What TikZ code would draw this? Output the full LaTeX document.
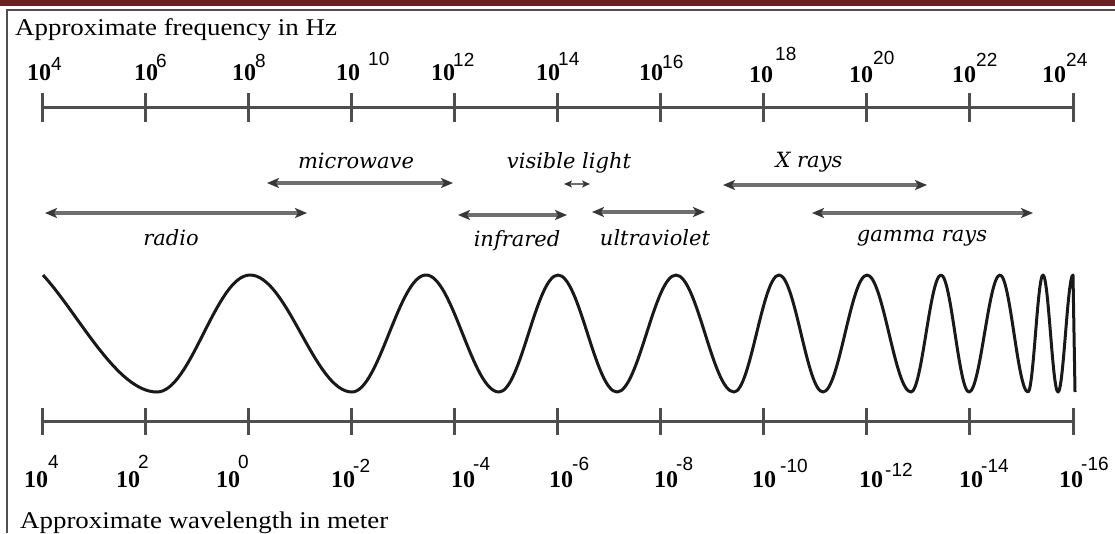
\documentclass[tikz,border=0pt]{standalone}
\usepackage{fontspec}
\setmainfont{Liberation Serif}
\newfontfamily\expfont{Liberation Sans}
\newfontfamily\labfont{DejaVu Serif}
\usetikzlibrary{arrows.meta}
\definecolor{barcol}{RGB}{105,33,33}
\definecolor{framecol}{RGB}{80,80,80}
\definecolor{axiscol}{RGB}{78,78,78}
\definecolor{shaftcol}{RGB}{110,110,110}
\definecolor{headcol}{RGB}{55,55,55}
\newcommand{\tpow}[3]{{\bfseries 10}\hspace*{#1pt}\raisebox{#2pt}{\expfont\fontsize{19}{20}\selectfont #3}}
\tikzset{
  axisline/.style={draw=axiscol, line width=3pt},
  tickline/.style={draw=axiscol, line width=3pt},
  pw/.style={inner sep=0pt, anchor=base west, font=\fontsize{24}{26}\selectfont},
  ttl/.style={inner sep=0pt, anchor=base west, font=\fontsize{24}{28}\selectfont, xscale=1.12, transform shape},
  lab/.style={inner sep=0pt, anchor=base, font=\labfont\itshape\fontsize{21}{24}\selectfont, text=black},
  rng/.style={draw=shaftcol, line width=3.2pt, arrows={Stealth[length=12pt,width=10pt,inset=3pt,color=headcol]-Stealth[length=12pt,width=10pt,inset=3pt,color=headcol]}},
  rngs/.style={draw=shaftcol, line width=2.4pt, arrows={Stealth[length=8pt,width=7pt,inset=2pt,color=headcol]-Stealth[length=8pt,width=7pt,inset=2pt,color=headcol]}},
  wave/.style={draw=black!90, line width=3pt, line join=round}
}
\begin{document}
\begin{tikzpicture}[x=1pt,y=-1pt]
\useasboundingbox (0,0) rectangle (1115,533);
\fill[white] (0,0) rectangle (1115,533);
% top bar and frame
\fill[barcol] (0,0) rectangle (1115,6);
\draw[framecol, line width=1.6pt] (7,533) -- (7,10) -- (1115,10);

% titles
\node[ttl] (ftitle) at (15,35) {Approximate frequency in Hz};
\node[ttl] (wtitle) at (20,528) {Approximate wavelength in meter};

% frequency axis
\coordinate (fa) at (42,107);
\coordinate (fb) at (1073,107);
\draw[axisline] (fa) -- (fb);
\foreach \i in {0,...,10} \draw[tickline] ({42+103.1*\i},93) -- ({42+103.1*\i},122);

% wavelength axis
\coordinate (wa) at (42,421);
\coordinate (wb) at (1073,421);
\draw[axisline] (wa) -- (wb);
\foreach \i in {0,...,10} \draw[tickline] ({42+103.1*\i},408) -- ({42+103.1*\i},435);

% frequency labels
\node[pw] (f4)  at (27,80)   {\tpow{0}{10}{4}};
\node[pw] (f6)  at (134,80)  {\tpow{-2}{13}{6}};
\node[pw] (f8)  at (232,80)  {\tpow{-1}{13}{8}};
\node[pw] (f10) at (336,80)  {\tpow{8}{15}{10}};
\node[pw] (f12) at (431,80)  {\tpow{-2}{14}{12}};
\node[pw] (f14) at (536,80)  {\tpow{-2}{15}{14}};
\node[pw] (f16) at (639,80)  {\tpow{-1}{12}{16}};
\node[pw] (f18) at (749,82)  {\tpow{2}{22}{18}};
\node[pw] (f20) at (849,82)  {\tpow{0}{18}{20}};
\node[pw] (f22) at (952,82)  {\tpow{0}{16}{22}};
\node[pw] (f24) at (1042,82) {\tpow{0}{16}{24}};

% wavelength labels
\node[pw] (w4)   at (24,487)   {\tpow{0}{19}{4}};
\node[pw] (w2)   at (116,487)  {\tpow{-2}{19}{2}};
\node[pw] (w0)   at (216,487)  {\tpow{-2}{19}{0}};
\node[pw] (wm2)  at (331,487)  {\tpow{-2}{15}{-2}};
\node[pw] (wm4)  at (451,487)  {\tpow{-2}{17}{-4}};
\node[pw] (wm6)  at (549,487)  {\tpow{-1}{17}{-6}};
\node[pw] (wm8)  at (654,487)  {\tpow{-2}{17}{-8}};
\node[pw] (wm10) at (752,487)  {\tpow{4}{15}{-10}};
\node[pw] (wm12) at (859,487)  {\tpow{2}{11}{-12}};
\node[pw] (wm14) at (959,487)  {\tpow{-2}{15}{-14}};
\node[pw] (wm16) at (1059,487) {\tpow{-2}{17}{-16}};

% range arrows
\coordinate (radioL) at (45,213);  \coordinate (radioR) at (307,213);
\coordinate (microL) at (267,183); \coordinate (microR) at (453,183);
\coordinate (irL) at (458,215);    \coordinate (irR) at (567,215);
\coordinate (visL) at (564,184);   \coordinate (visR) at (590,184);
\coordinate (uvL) at (592,212);    \coordinate (uvR) at (705,212);
\coordinate (xL) at (723,185);     \coordinate (xR) at (927,185);
\coordinate (gL) at (812,213);     \coordinate (gR) at (1033,213);
\draw[rng] (radioL) -- (radioR);
\draw[rng] (microL) -- (microR);
\draw[rng] (irL) -- (irR);
\draw[rngs] (visL) -- (visR);
\draw[rng] (uvL) -- (uvR);
\draw[rng] (xL) -- (xR);
\draw[rng] (gL) -- (gR);

% range labels
\node[lab] (tmicro) at (356,168) {microwave};
\node[lab] (tvis)   at (569,168) {visible light};
\node[lab] (tx)     at (809,167) {X rays};
\node[lab] (tradio) at (171,245) {radio};
\node[lab] (tir)    at (517,246) {infrared};
\node[lab] (tuv)    at (655,245) {ultraviolet};
\node[lab] (tg)     at (922,241) {gamma rays};

% wave
\draw[wave] (43,275) .. controls (78,313) and (117,392) .. (157,392)
  \foreach \x/\y [remember=\x as \px (initially 157), remember=\y as \py (initially 392)] in
   {250/275, 352/392, 426/275, 499/392, 558/275, 617/392, 676/275, 734/392, 779/275, 823/392, 867/275, 911/392, 941/275, 969/392, 1000/275, 1028/392, 1043/275, 1058/392, 1073/275}
   { .. controls ({\px+0.3634*(\x-\px)},\py) and ({\x-0.3634*(\x-\px)},\y) .. (\x,\y) }
  -- (1075,392);
\end{tikzpicture}
\end{document}
